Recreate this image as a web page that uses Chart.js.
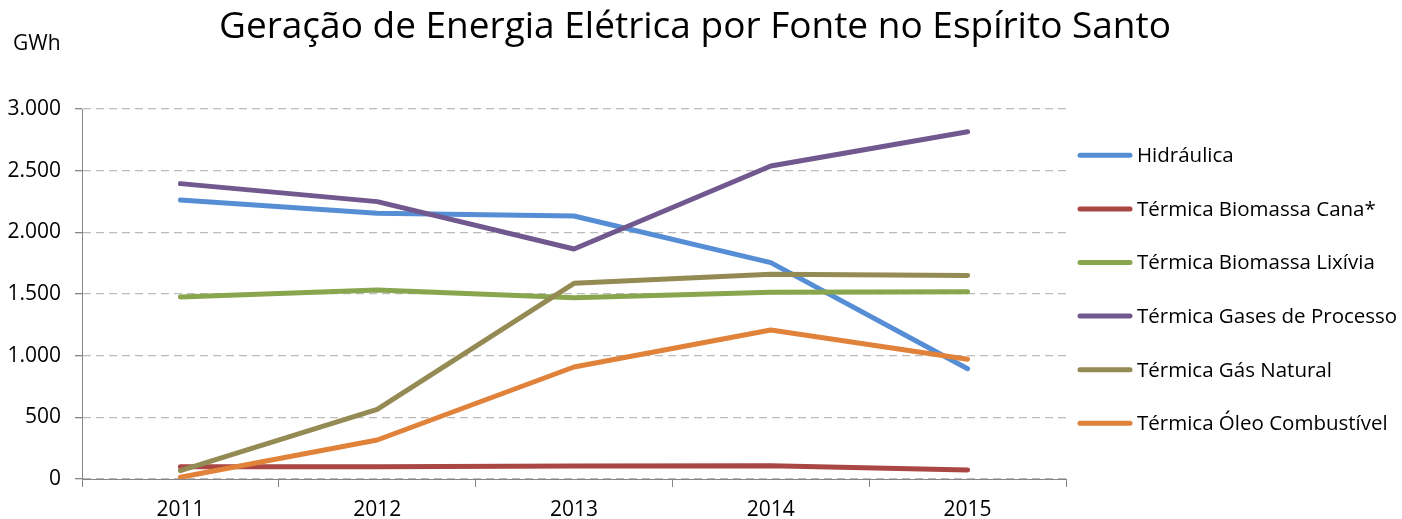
<!DOCTYPE html>
<html>
<head>
<meta charset="utf-8">
<script src="https://cdn.jsdelivr.net/npm/chart.js@4"></script>
<style>
  html, body { margin: 0; padding: 0; background: #fff; }
  #wrap { width: 1402px; height: 519px; }
</style>
</head>
<body>
<div id="wrap"><canvas id="chart" width="1402" height="519"></canvas></div>
<script>
const chartTitle = 'Geração de Energia Elétrica por Fonte no Espírito Santo';
const unitLabel = 'GWh';
const years = ['2011', '2012', '2013', '2014', '2015'];
const seriesNames = [
    'Hidráulica',
    'Térmica Biomassa Cana*',
    'Térmica Biomassa Lixívia',
    'Térmica Gases de Processo',
    'Térmica Gás Natural',
    'Térmica Óleo Combustível'
];
const hidraulica = [2262, 2154, 2132, 1754, 894];
const biomassaCana = [100, 100, 105, 108, 73];
const biomassaLixivia = [1476, 1532, 1470, 1514, 1519];
const gasesProcesso = [2395, 2249, 1865, 2538, 2816];
const gasNatural = [68, 565, 1587, 1660, 1651];
const oleoCombustivel = [14, 316, 908, 1208, 971];
const colors = ['#558ED5', '#AA4643', '#89A54E', '#71588F', '#948A54', '#E1823A'];

const FONT = '"Open Sans", "Liberation Sans", sans-serif';
const allSeries = [hidraulica, biomassaCana, biomassaLixivia, gasesProcesso, gasNatural, oleoCombustivel];

// thousands separator like pt-BR
const fmt = v => String(v).replace(/\B(?=(\d{3})+(?!\d))/g, '.');

// title, unit and legend drawn by hand so the spacing matches the original
const decorations = {
    id: 'decorations',
    afterDraw(chart) {
        const ctx = chart.ctx;
        const area = chart.chartArea;
        ctx.save();
        ctx.fillStyle = '#000';
        ctx.textBaseline = 'alphabetic';

        ctx.font = '37px ' + FONT;
        ctx.textAlign = 'center';
        ctx.fillText(chartTitle, 695, 38);

        ctx.font = '21px ' + FONT;
        ctx.textAlign = 'left';
        ctx.fillText(unitLabel, 13, 50);

        const x0 = area.right + 14;
        const step = 53.6;
        const y0 = 155.3;
        ctx.font = '20.5px ' + FONT;
        ctx.textBaseline = 'middle';
        chart.data.datasets.forEach((ds, i) => {
            const y = y0 + i * step;
            ctx.strokeStyle = ds.borderColor;
            ctx.lineWidth = 5;
            ctx.lineCap = 'round';
            ctx.beginPath();
            ctx.moveTo(x0, y);
            ctx.lineTo(x0 + 50, y);
            ctx.stroke();
            ctx.fillText(ds.label, x0 + 57, y + 1);
        });
        ctx.restore();
    }
};

new Chart(document.getElementById('chart'), {
    type: 'line',
    data: {
        labels: years,
        datasets: allSeries.map((data, i) => ({
            label: seriesNames[i],
            data,
            borderColor: colors[i],
            backgroundColor: colors[i],
            borderWidth: 5,
            borderCapStyle: 'round',
            borderJoinStyle: 'round',
            pointRadius: 0,
            tension: 0,
            order: 10 - i
        }))
    },
    options: {
        responsive: false,
        animation: false,
        layout: { padding: { left: 0, right: 336, top: 109, bottom: 0 } },
        plugins: {
            legend: { display: false },
            tooltip: { enabled: false },
            title: { display: false }
        },
        scales: {
            x: {
                offset: true,
                afterFit: s => { s.height = 40; },
                border: { color: '#868686', width: 1 },
                grid: {
                    offset: true,
                    drawOnChartArea: false,
                    tickLength: 8,
                    tickColor: '#868686'
                },
                ticks: {
                    color: '#000',
                    padding: 13,
                    font: { family: FONT, size: 21, lineHeight: 1 }
                }
            },
            y: {
                min: 0,
                max: 3000,
                afterFit: s => { s.width = 82; },
                border: { color: '#868686', width: 1, dash: [8, 5] },
                grid: {
                    color: '#bbbbbb',
                    lineWidth: 1.3,
                    tickLength: 7,
                    tickColor: '#868686',
                    tickBorderDash: []
                },
                ticks: {
                    stepSize: 500,
                    color: '#000',
                    padding: 14,
                    font: { family: FONT, size: 21 },
                    callback: v => fmt(v)
                }
            }
        }
    },
    plugins: [decorations]
});
</script>
</body>
</html>
